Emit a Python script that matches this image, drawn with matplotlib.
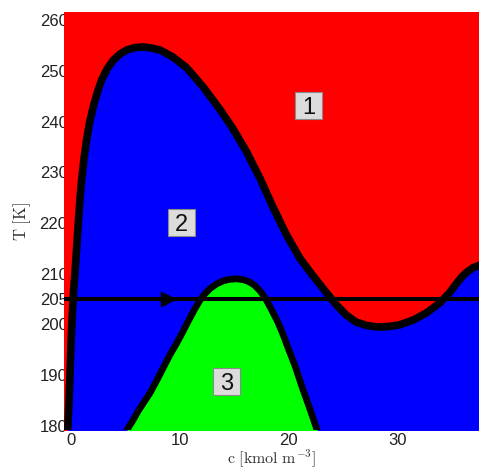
import matplotlib
matplotlib.use("Agg")
import matplotlib.pyplot as plt
from matplotlib.patches import Rectangle

plt.rcParams['mathtext.fontset'] = 'cm'

# Outer boundary (between regions 1 and 2)
outer_c = [-0.35, -0.28, -0.18, -0.09, 0.0, 0.08, 0.16, 0.25, 0.37, 0.52, 0.67, 0.82,
           0.98, 1.2, 1.44, 1.72, 2.05, 2.42, 2.82, 3.33, 3.89, 4.5, 5.12, 5.9, 6.65,
           7.4, 8.19, 9.4, 10.64, 12.17, 13.7, 14.93, 16.16, 17.39, 18.61, 19.84,
           21.07, 22.3, 23.52, 24.44, 25.3, 26.2, 27.2, 28.15, 29.2, 30.2, 31.5, 32.7,
           33.9, 34.8, 35.5, 36.0, 36.4, 37.0, 37.6]
outer_T = [178.0, 180.0, 185.0, 190.0, 196.0, 200.0, 203.5, 207.0, 210.1, 215.0, 219.9,
           224.4, 228.5, 232.7, 236.4, 239.9, 242.9, 245.7, 248.2, 250.4, 252.1, 253.3,
           254.1, 254.6, 254.7, 254.5, 254.1, 252.7, 250.6, 246.8, 242.4, 238.5, 234.0,
           228.8, 223.0, 217.6, 213.0, 209.5, 206.2, 203.8, 201.9, 200.5, 199.8, 199.5,
           199.6, 199.9, 200.9, 202.3, 204.2, 206.2, 208.2, 209.5, 210.3, 211.2, 211.7]

# Inner boundary (region 3)
inner_c = [5.0, 5.15, 5.7, 6.2, 6.75, 7.27, 7.9, 8.5, 9.1, 9.75, 10.3, 10.8, 11.35,
           11.87, 12.3, 12.8, 13.4, 14.0, 14.6, 15.24, 15.9, 16.4, 16.9, 17.4, 17.9,
           18.4, 19.0, 19.53, 20.0, 20.6, 21.3, 22.0, 22.7, 22.9]
inner_T = [178.0, 179.2, 181.1, 183.0, 184.8, 186.5, 189.0, 191.5, 194.0, 196.4, 198.6,
           200.7, 202.9, 204.8, 206.0, 207.1, 208.0, 208.6, 208.9, 209.0, 208.8, 208.4,
           207.7, 206.6, 205.1, 203.1, 200.6, 197.9, 195.2, 191.9, 187.4, 183.2, 178.8,
           177.6]

# Operating line
T_line = 205.0
arrow_c = 8.93

# Region labels
region_labels = ["1", "2", "3"]
label_c = [21.87, 10.15, 14.32]
label_T = [243.2, 220.1, 188.7]

yticks = [180, 190, 200, 205, 210, 220, 230, 240, 250, 260]
xticks = [0, 10, 20, 30]

xmin, xmax = -0.64, 37.53
ymin, ymax = 179.2, 261.6

fig = plt.figure(figsize=(4.79, 4.69), dpi=100)
ax = fig.add_axes([64 / 479, 39 / 469, 415 / 479, 418 / 469])
ax.set_axisbelow(True)
ax.set_xlim(xmin, xmax)
ax.set_ylim(ymin, ymax)

# pixel -> data scale for label boxes
cx_per_px = (xmax - xmin) / 415.0
ty_per_px = (ymax - ymin) / 418.0

# Region 1 background
ax.fill_between([xmin, xmax], [ymin - 5, ymin - 5], [ymax + 5, ymax + 5],
                color='#ff0000', lw=0, zorder=1)
# Region 2
ax.fill_between(outer_c, [ymin - 5] * len(outer_c), outer_T, color='#0000ff', lw=0, zorder=1.1)
# Region 3
ax.fill_between(inner_c, [ymin - 5] * len(inner_c), inner_T, color='#00ff00', lw=0, zorder=1.2)

ax.plot(outer_c, outer_T, color='black', lw=5.5, solid_capstyle='round',
        solid_joinstyle='round', zorder=3)
ax.plot(inner_c, inner_T, color='black', lw=4.8, solid_capstyle='round',
        solid_joinstyle='round', zorder=3)

ax.plot([xmin, xmax], [T_line, T_line], color='black', lw=2.9, zorder=3.5)
ax.plot([arrow_c], [T_line], marker='>', color='black', markersize=10.5, zorder=3.6)

bw, bh = 27 * cx_per_px, 27 * ty_per_px
for lab, cx, ty in zip(region_labels, label_c, label_T):
    ax.add_patch(Rectangle((cx - bw / 2, ty - bh / 2), bw, bh, facecolor='#dcdcdc',
                           edgecolor='#8a8a8a', lw=0.8, zorder=5))
    ax.text(cx, ty, lab, fontsize=17, family='Liberation Sans',
            ha='center', va='center_baseline', zorder=6, color='#111111')

for s in ax.spines.values():
    s.set_visible(False)

ax.set_xticks(xticks)
ax.set_yticks(yticks)
ax.set_xticklabels([str(v) for v in xticks])
ax.set_yticklabels([str(v) for v in yticks])
ax.tick_params(axis='both', length=0, labelsize=12)
ax.tick_params(axis='y', pad=-2.6)
ax.tick_params(axis='x', pad=2.0)
for lbl in ax.get_xticklabels() + ax.get_yticklabels():
    lbl.set_family('Liberation Sans')
    lbl.set_color('#222222')

ax.set_xlabel(r'$\mathrm{c\ [kmol\ m^{-3}]}$', fontsize=11.5, labelpad=0, color='#333333')
ax.set_ylabel(r'$\mathrm{T\ [K]}$', fontsize=12, labelpad=5, color='#333333')

fig.savefig('out.png', dpi=100)
